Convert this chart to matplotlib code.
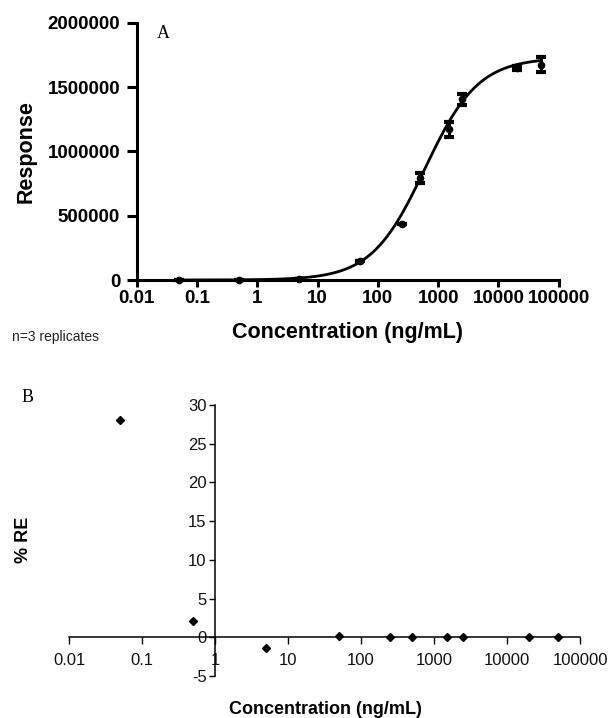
import numpy as np
import matplotlib
matplotlib.use("Agg")
import matplotlib.pyplot as plt

# concentrations (ng/mL)
conc = [0.05, 0.5, 5, 50, 250, 500, 1500, 2500, 20000, 50000]

# panel A: n=3 replicate responses per concentration
rep_1 = [900, 2000, 9500, 149000, 434000, 755000, 1115000, 1365000, 1635000, 1620000]
rep_2 = [1000, 2200, 10000, 150000, 436000, 790000, 1175000, 1408000, 1650000, 1675000]
rep_3 = [1100, 2400, 10500, 151000, 438000, 830000, 1230000, 1450000, 1668000, 1735000]

# 4PL fit
fit_top = 1730000
fit_bottom = 0
fit_ec50 = 600
fit_hill = 0.98

# panel B: % relative error
re_pct = [28.0, 2.1, -1.4, 0.2, 0.0, 0.0, 0.0, 0.0, 0.0, 0.0]

x_ticks = [0.01, 0.1, 1, 10, 100, 1000, 10000, 100000]
x_labels = ["0.01", "0.1", "1", "10", "100", "1000", "10000", "100000"]
ya_ticks = [0, 500000, 1000000, 1500000, 2000000]
yb_ticks = [-5, 0, 5, 10, 15, 20, 25, 30]

sans = ["Liberation Sans", "DejaVu Sans"]
serif = ["Liberation Serif", "DejaVu Serif"]

fig = plt.figure(figsize=(6.08, 7.18), dpi=100)

# ---------- panel A ----------
ax_a = fig.add_axes([0.225, 0.61, 0.694, 0.358])

reps = np.array([rep_1, rep_2, rep_3])
mean = reps.mean(axis=0)
sd = reps.std(axis=0, ddof=1)

xs = np.logspace(np.log10(0.05), np.log10(50000), 400)
curve = fit_bottom + (fit_top - fit_bottom) / (1 + (fit_ec50 / xs) ** fit_hill)
ax_a.plot(xs, curve, color="black", lw=2.0, clip_on=False)

ax_a.errorbar(
    conc, mean, yerr=sd,
    fmt="o", color="black", ms=4.5,
    elinewidth=2.2, capsize=3.5, capthick=3,
    clip_on=False
)

ax_a.set_xscale("log")
ax_a.set_xlim(0.01, 100000)
ax_a.set_ylim(0, 2000000)
ax_a.set_xticks(x_ticks)
ax_a.set_xticklabels(x_labels)
ax_a.minorticks_off()
ax_a.set_yticks(ya_ticks)
ax_a.set_yticklabels([str(v) for v in ya_ticks])

for s in ["top", "right"]:
    ax_a.spines[s].set_visible(False)
for s in ["left", "bottom"]:
    ax_a.spines[s].set_linewidth(2.2)

ax_a.tick_params(axis="x", direction="out", length=5, width=2.2, pad=2)
ax_a.tick_params(axis="y", direction="out", length=7, width=2.2, pad=5)
for lab in ax_a.get_xticklabels() + ax_a.get_yticklabels():
    lab.set_family(sans)
    lab.set_fontweight("bold")
    lab.set_fontsize(13.5)

ax_a.set_ylabel("Response", family=sans, fontweight="bold", fontsize=15.5, labelpad=8)
ax_a.set_xlabel("Concentration (ng/mL)", family=sans, fontweight="bold", fontsize=15.5, labelpad=11)

fig.text(157 / 608, 1 - 34 / 718, "A", family=serif, fontsize=13, va="center")
fig.text(12 / 608, 1 - 337 / 718, "n=3 replicates", family=sans, fontsize=10, va="center", color="#222222")

# ---------- panel B ----------
ax_b = fig.add_axes([0.1135, 0.0585, 0.8405, 0.3775])

ax_b.plot(conc, re_pct, ls="none", marker="D", ms=4.5, color="black", clip_on=False)

ax_b.set_xscale("log")
ax_b.set_xlim(0.01, 100000)
ax_b.set_ylim(-5, 30)
ax_b.set_xticks(x_ticks)
ax_b.set_xticklabels(x_labels)
ax_b.minorticks_off()
ax_b.set_yticks(yb_ticks)
ax_b.set_yticklabels([str(v) for v in yb_ticks])

ax_b.spines["left"].set_position(("data", 1))
ax_b.spines["bottom"].set_position(("data", 0))
for s in ["top", "right"]:
    ax_b.spines[s].set_visible(False)
for s in ["left", "bottom"]:
    ax_b.spines[s].set_linewidth(1.1)
    ax_b.spines[s].set_zorder(3)

ax_b.tick_params(axis="x", direction="out", length=5, width=1, pad=6)
ax_b.tick_params(axis="y", direction="out", length=4, width=1, pad=2)
for lab in ax_b.get_xticklabels() + ax_b.get_yticklabels():
    lab.set_family(sans)
    lab.set_fontsize(12)
    lab.set_color("#111111")

fig.text(24 / 608, 1 - 540 / 718, "% RE", family=sans, fontweight="bold", fontsize=13,
         rotation=90, va="center", ha="center")
fig.text(325 / 608, 1 - 709 / 718, "Concentration (ng/mL)", family=sans, fontweight="bold",
         fontsize=13, va="center", ha="center")
fig.text(22 / 608, 1 - 398 / 718, "B", family=serif, fontsize=13, va="center")

fig.savefig("out.png", dpi=100, facecolor="white")
